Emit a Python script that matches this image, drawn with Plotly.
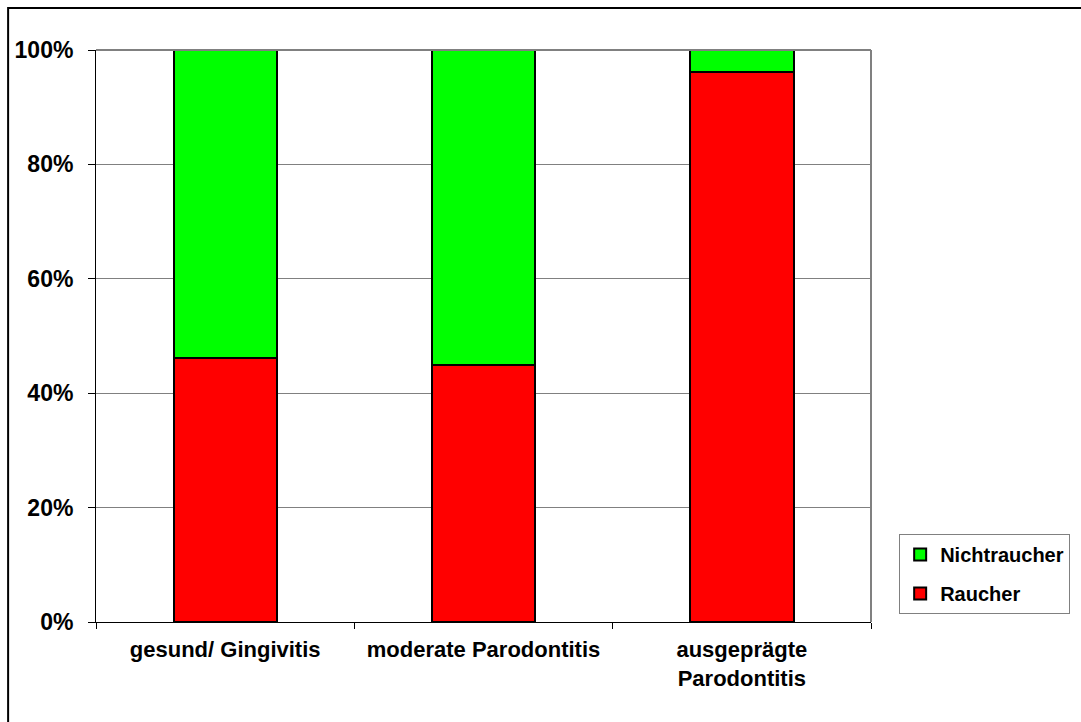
import plotly.graph_objects as go

categories = ["gesund/ Gingivitis", "moderate Parodontitis", "ausgeprägte<br>Parodontitis"]
raucher = [0.462, 0.449, 0.961]
nichtraucher = [1 - v for v in raucher]

FONT = "Arial, Liberation Sans, Helvetica, sans-serif"

fig = go.Figure()
fig.add_trace(go.Bar(
    x=categories, y=raucher, name="Raucher", legendgroup="r", legendrank=2,
    marker=dict(color="#FF0000", line=dict(color="#000000", width=2)),
))
fig.add_trace(go.Bar(
    x=categories, y=nichtraucher, name="Nichtraucher", legendgroup="n", legendrank=1,
    marker=dict(color="#00FF00", line=dict(color="#000000", width=2)),
))

fig.update_layout(
    width=1081, height=722,
    margin=dict(l=96, r=209, t=50, b=100),
    barmode="stack", bargap=0.6,
    paper_bgcolor="white", plot_bgcolor="white",
    font=dict(family=FONT, color="black", size=20),
    showlegend=True,
    legend=dict(
        x=1.035, y=0.014, xanchor="left", yanchor="bottom",
        traceorder="grouped", tracegroupgap=10,
        bordercolor="#808080", borderwidth=1,
        font=dict(family=FONT, size=20, weight=700, color="black"),
        itemwidth=30,
    ),
    xaxis=dict(
        type="category",
        showline=True, linecolor="black", linewidth=1,
        ticks="outside", tickson="boundaries", ticklen=6, tickcolor="black",
        tickfont=dict(family=FONT, size=22, weight=700, color="black"),
        ticklabelstandoff=8,
    ),
    yaxis=dict(
        range=[0, 1], dtick=0.2, tickformat=".0%",
        showline=True, linecolor="black", linewidth=1,
        ticks="outside", ticklen=7, tickcolor="black",
        showgrid=True, gridcolor="#808080", gridwidth=1,
        zeroline=False,
        tickfont=dict(family=FONT, size=23, weight=700, color="black"),
        ticklabelstandoff=10,
    ),
    shapes=[
        # right edge of the plot area
        dict(type="line", xref="paper", yref="paper", x0=1, x1=1, y0=0, y1=1,
             line=dict(color="#808080", width=2)),
        # top edge of the plot area
        dict(type="line", xref="paper", yref="paper", x0=0, x1=1, y0=1, y1=1,
             line=dict(color="#808080", width=2)),
        # outer chart frame
        dict(type="rect", xref="paper", yref="paper",
             x0=-0.1134, x1=1.6, y0=-0.6, y1=1.0734,
             line=dict(color="black", width=2)),
    ],
)

fig.write_html("out.html")
